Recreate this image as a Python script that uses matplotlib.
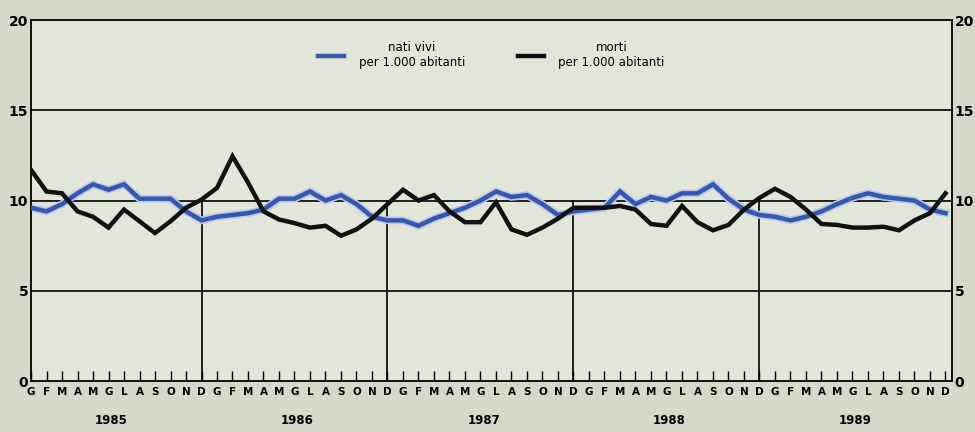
import numpy as np
import matplotlib.pyplot as plt

# Dati mensili 1985-1989 (per 1.000 abitanti)
mesi = ["G", "F", "M", "A", "M", "G", "L", "A", "S", "O", "N", "D"]
anni = ["1985", "1986", "1987", "1988", "1989"]

nati_vivi = [
    9.6, 9.4, 9.8, 10.4, 10.9, 10.6, 10.9, 10.1, 10.1, 10.1, 9.4, 8.9,
    9.1, 9.2, 9.3, 9.5, 10.1, 10.1, 10.5, 10.0, 10.3, 9.8, 9.1, 8.9,
    8.9, 8.6, 9.0, 9.3, 9.6, 10.0, 10.5, 10.2, 10.3, 9.8, 9.2, 9.4,
    9.5, 9.6, 10.5, 9.8, 10.2, 10.0, 10.4, 10.4, 10.9, 10.1, 9.5, 9.2,
    9.1, 8.9, 9.1, 9.4, 9.8, 10.15, 10.4, 10.2, 10.1, 10.0, 9.5, 9.3,
]
morti = [
    11.7, 10.5, 10.4, 9.4, 9.1, 8.5, 9.5, 8.85, 8.2, 8.85, 9.6, 10.05,
    10.7, 12.45, 11.0, 9.4, 8.95, 8.75, 8.5, 8.6, 8.05, 8.4, 9.0, 9.8,
    10.6, 10.0, 10.3, 9.4, 8.8, 8.8, 9.9, 8.4, 8.1, 8.5, 9.0, 9.6,
    9.6, 9.6, 9.7, 9.5, 8.7, 8.6, 9.7, 8.8, 8.35, 8.65, 9.5, 10.15,
    10.65, 10.2, 9.5, 8.7, 8.65, 8.5, 8.5, 8.55, 8.35, 8.9, 9.3, 10.4,
]

x = np.arange(len(nati_vivi))

fig = plt.figure(figsize=(9.75, 4.32), dpi=100, facecolor="#d7d7ca")
ax = fig.add_axes([0.0318, 0.118, 0.9446, 0.8356])
ax.set_facecolor("#e2e6d8")

# griglia orizzontale
for v in [5, 10, 15]:
    ax.axhline(v, color="black", lw=1.2, zorder=1)

# separatori di anno
for i in range(11, len(x) - 1, 12):
    ax.plot([i, i], [0, 10], color="black", lw=1.2, zorder=1)

ax.plot(x, nati_vivi, color="#b9c8ea", lw=5.5, solid_joinstyle="miter", zorder=2)
l1, = ax.plot(x, nati_vivi, color="#3458b0", lw=3.2, solid_joinstyle="miter",
              zorder=3, label="nati vivi\nper 1.000 abitanti")
l2, = ax.plot(x, morti, color="#111111", lw=3.2, solid_joinstyle="miter",
              zorder=4, label="morti\nper 1.000 abitanti")

ax.set_xlim(0, 59.42)
ax.set_ylim(0, 20)

for s in ax.spines.values():
    s.set_color("black")
    s.set_linewidth(1.3)

ax.set_yticks([0, 5, 10, 15, 20])
ax.set_yticklabels(["0", "5", "10", "15", "20"])
ax.tick_params(axis="y", length=0, labelsize=10, pad=2, labelright=True,
               labelleft=True)
for t in ax.get_yticklabels():
    t.set_fontweight("bold")

ax.set_xticks(x)
ax.set_xticklabels(mesi * len(anni), fontsize=7.5, fontweight="bold")
ax.tick_params(axis="x", direction="in", length=7, width=1.0, pad=4)

for k, anno in enumerate(anni):
    ax.text(k * 12 + 5.2, -2.2, anno, ha="center", va="center",
            fontsize=8.5, fontweight="bold")

leg = ax.legend(handles=[l1, l2], loc="upper center", bbox_to_anchor=(0.5, 0.97),
                ncol=2, frameon=False, fontsize=8.5, handlelength=2.2,
                columnspacing=4.5, handletextpad=1.2)
for t in leg.get_texts():
    t.set_multialignment("center")

fig.savefig("out.png", dpi=100, facecolor=fig.get_facecolor())
